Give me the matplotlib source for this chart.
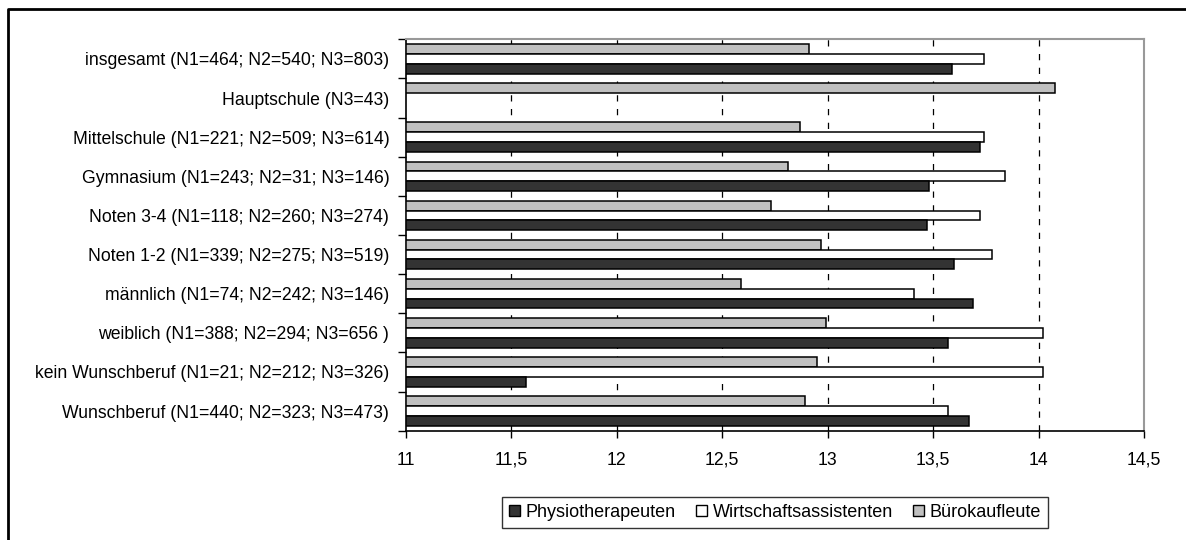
import numpy as np
import matplotlib
matplotlib.use("Agg")
import matplotlib.pyplot as plt
from matplotlib.lines import Line2D
from matplotlib.patches import Patch

plt.rcParams['font.family'] = ['Liberation Sans', 'DejaVu Sans']

categories = [
    "insgesamt (N1=464; N2=540; N3=803)",
    "Hauptschule (N3=43)",
    "Mittelschule (N1=221; N2=509; N3=614)",
    "Gymnasium (N1=243; N2=31; N3=146)",
    "Noten 3-4 (N1=118; N2=260; N3=274)",
    "Noten 1-2 (N1=339; N2=275; N3=519)",
    "männlich (N1=74; N2=242; N3=146)",
    "weiblich (N1=388; N2=294; N3=656 )",
    "kein Wunschberuf (N1=21; N2=212; N3=326)",
    "Wunschberuf (N1=440; N2=323; N3=473)",
]
physio = [13.59, np.nan, 13.72, 13.48, 13.47, 13.60, 13.69, 13.57, 11.57, 13.67]
wirtschaft = [13.74, np.nan, 13.74, 13.84, 13.72, 13.78, 13.41, 14.02, 14.02, 13.57]
buero = [12.91, 14.08, 12.87, 12.81, 12.73, 12.97, 12.59, 12.99, 12.95, 12.89]
series_names = ["Physiotherapeuten", "Wirtschaftsassistenten", "Bürokaufleute"]
x_ticks = [11, 11.5, 12, 12.5, 13, 13.5, 14, 14.5]
x_labels = ["11", "11,5", "12", "12,5", "13", "13,5", "14", "14,5"]

colors = ["#333333", "#ffffff", "#c0c0c0"]

fig = plt.figure(figsize=(11.86, 5.40), dpi=100)
ax = fig.add_axes([406 / 1186, 1 - 430.7 / 540, (1144 - 406) / 1186, (430.7 - 39.3) / 540])

y = np.arange(len(categories))
h = 1 / 4.0
base = 11
# bars: Buero on top, Wirtschaft middle, Physio bottom
for vals, off, col in [(buero, -h, colors[2]), (wirtschaft, 0, colors[1]), (physio, h, colors[0])]:
    vals = np.array(vals)
    ok = ~np.isnan(vals)
    ax.barh(y[ok] + off, vals[ok] - base, left=base, height=h, color=col,
            edgecolor="black", linewidth=1.1, zorder=3)

ax.set_xlim(11, 14.5)
ax.set_ylim(len(categories) - 0.5, -0.5)

# dashed grid
for t in x_ticks[1:-1]:
    ax.axvline(t, color="black", linewidth=0.9, linestyle=(0, (5, 6)), zorder=1)

ax.set_xticks(x_ticks)
ax.set_xticklabels(x_labels, fontsize=12.7)
ax.tick_params(axis="x", direction="out", length=5, width=1, pad=10)

ax.set_yticks(np.arange(len(categories) + 1) - 0.5)
ax.set_yticklabels([])
ax.tick_params(axis="y", which="major", direction="out", length=6, width=1)
ax.set_yticks(y, minor=True)
ax.set_yticklabels(categories, minor=True, fontsize=12.7)
ax.tick_params(axis="y", which="minor", length=0, pad=12)

for s in ["left", "bottom"]:
    ax.spines[s].set_color("black")
    ax.spines[s].set_linewidth(1.2)
for s in ["top", "right"]:
    ax.spines[s].set_color("#999999")
    ax.spines[s].set_linewidth(1.5)

handles = [Patch(facecolor=c, edgecolor="black", linewidth=1.0) for c in colors]
leg = fig.legend(handles, series_names, loc="center", bbox_to_anchor=(775 / 1186, 1 - 512.5 / 540),
                 ncol=3, fontsize=13, frameon=True, fancybox=False, handlelength=0.61,
                 handleheight=0.61, handletextpad=0.33, columnspacing=1.1, borderpad=0.4,
                 borderaxespad=0)
leg.get_frame().set_edgecolor("black")
leg.get_frame().set_linewidth(1.0)

# outer frame (left and top visible)
fig.add_artist(Line2D([8.3 / 1186, 8.3 / 1186, 1.0], [0.0, 1 - 9 / 540, 1 - 9 / 540],
                      color="black", linewidth=2, transform=fig.transFigure))

fig.savefig("out.png", dpi=100)
